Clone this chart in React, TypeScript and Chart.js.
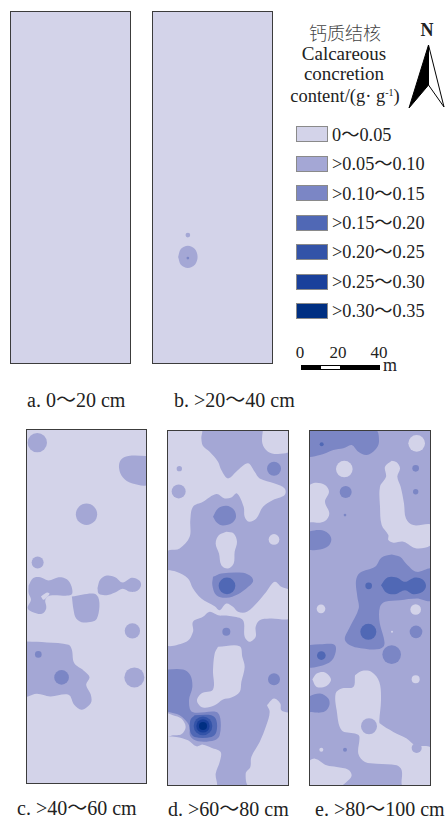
import React, { useEffect, useRef } from "react";
import { Chart, registerables } from "chart.js";

Chart.register(...registerables);

// Content classes, lowest to highest
const levelLabels = ["0～0.05", ">0.05～0.10", ">0.10～0.15", ">0.15～0.20", ">0.20～0.25", ">0.25～0.30", ">0.30～0.35"];
const levelColors = ["#d3d3e9", "#a4a7d5", "#7b86c5", "#5068b5", "#3353a8", "#1a409b", "#002f82"];

// Coordinates below are sample-grid units along each plot's two sides.
type Pt = [number, number];
type Shape = [number, Pt[]];
type Spot = [number, number, number, number]; // x, y, radius, level

const panelAShapes: Shape[] = [];
const panelASpots: Spot[] = [];

const panelBShapes: Shape[] = [
  [1, [[535, 112], [543, 88], [564, 78], [585, 88], [593, 112], [585, 135], [564, 145], [543, 135]]],
];
const panelBSpots: Spot[] = [
  [564, 46, 7, 1],
  [564, 115, 4, 2],
];

const panelCShapes: Shape[] = [
  [1, [[445, 108], [385, 108], [362, 120], [357, 145], [368, 172], [395, 190], [445, 192]]],
  [1, [[85, 497], [98, 475], [120, 472], [145, 482], [175, 472], [200, 478], [214, 500], [213, 525], [150, 527], [135, 540], [138, 565], [125, 582], [100, 578], [82, 565], [92, 540], [85, 520]]],
  [0, [[122, 530], [140, 518], [148, 522], [130, 540]]],
  [1, [[292, 505], [300, 480], [320, 467], [345, 472], [368, 488], [395, 474], [418, 482], [423, 497], [412, 513], [390, 516], [368, 507], [345, 518], [320, 526], [296, 522]]],
  [1, [[215, 530], [290, 526], [290, 597], [250, 608], [228, 596], [220, 570]]],
  [1, [[70, 665], [140, 668], [205, 675], [215, 690], [222, 730], [250, 752], [268, 772], [258, 795], [272, 825], [272, 850], [245, 870], [222, 855], [205, 825], [150, 830], [110, 822], [70, 828]]],
];
const panelCSpots: Spot[] = [
  [111, 68, 29, 1],
  [259, 283, 32, 1],
  [112, 428, 18, 1],
  [397, 633, 23, 1],
  [403, 773, 30, 1],
  [184, 773, 22, 2],
  [114, 704, 10, 2],
];

const panelDShapes: Shape[] = [
  [0, [[15, 30], [125, 30], [125, 55], [130, 78], [150, 95], [175, 125], [185, 150], [205, 175], [235, 150], [265, 130], [285, 155], [300, 175], [345, 190], [375, 205], [375, 225], [340, 240], [310, 260], [290, 295], [268, 305], [255, 290], [252, 260], [232, 220], [215, 232], [195, 235], [170, 222], [130, 245], [100, 260], [92, 300], [90, 350], [60, 385], [30, 390], [15, 395]]],
  [0, [[310, 25], [308, 70], [325, 95], [355, 102], [395, 90], [395, 25]]],
  [0, [[200, 335], [222, 340], [232, 365], [225, 395], [222, 430], [205, 445], [185, 435], [178, 400], [168, 370], [178, 345]]],
  [0, [[15, 448], [50, 455], [85, 475], [100, 505], [125, 535], [165, 558], [180, 570], [200, 550], [220, 560], [235, 575], [262, 575], [295, 545], [320, 515], [345, 485], [365, 500], [395, 515], [395, 592], [330, 595], [300, 600], [288, 620], [288, 650], [270, 665], [255, 650], [250, 600], [215, 588], [175, 585], [150, 575], [130, 590], [100, 605], [100, 635], [80, 665], [15, 670]]],
  [0, [[175, 680], [240, 678], [248, 710], [255, 740], [245, 785], [240, 815], [215, 832], [190, 838], [165, 855], [130, 862], [112, 842], [125, 820], [160, 808], [160, 750], [165, 700]]],
  [2, [[15, 748], [70, 748], [92, 765], [98, 800], [88, 840], [98, 875], [170, 875], [182, 895], [180, 945], [165, 960], [115, 963], [92, 948], [88, 915], [60, 885], [15, 865]]],
  [0, [[15, 875], [40, 885], [65, 895], [78, 920], [65, 942], [40, 945], [15, 950]]],
  [0, [[15, 948], [50, 950], [85, 960], [110, 978], [130, 973], [155, 982], [183, 995], [180, 1025], [168, 1060], [168, 1100], [15, 1100]]],
  [0, [[322, 855], [343, 835], [362, 850], [365, 870], [395, 885], [395, 1100], [270, 1100], [258, 1060], [272, 1040], [275, 1010], [300, 965], [320, 915], [330, 875]]],
  [2, [[160, 290], [175, 265], [200, 257], [222, 268], [229, 290], [218, 308], [190, 316], [172, 308]]],
  [2, [[160, 470], [185, 460], [250, 458], [275, 470], [280, 485], [260, 505], [235, 522], [200, 533], [170, 525], [158, 495]]],
  [3, [[105, 885], [155, 885], [170, 900], [170, 935], [155, 950], [105, 950], [92, 935], [92, 900]]],
];
const panelDSpots: Spot[] = [
  [57, 214, 21, 1],
  [59, 146, 8, 1],
  [343, 146, 21, 2],
  [343, 358, 16, 0],
  [202, 497, 25, 3],
  [200, 635, 12, 2],
  [343, 777, 18, 2],
  [130, 917, 28, 4],
  [130, 917, 20, 5],
  [130, 917, 12, 6],
];

const panelEShapes: Shape[] = [
  [2, [[20, 28], [225, 28], [237, 65], [225, 90], [200, 105], [175, 95], [155, 75], [130, 85], [100, 90], [60, 105], [20, 107]]],
  [0, [[275, 122], [255, 140], [258, 170], [240, 200], [240, 260], [245, 315], [265, 345], [265, 360], [280, 368], [310, 365], [350, 385], [395, 372], [395, 315], [340, 315], [318, 295], [312, 250], [302, 200], [292, 170], [300, 145], [290, 127]]],
  [0, [[20, 200], [45, 188], [75, 195], [87, 215], [75, 245], [88, 280], [75, 303], [50, 308], [20, 300]]],
  [2, [[20, 335], [60, 330], [85, 340], [94, 358], [85, 378], [60, 388], [20, 385]]],
  [2, [[275, 403], [245, 412], [225, 440], [180, 458], [168, 482], [172, 530], [176, 565], [150, 620], [135, 660], [170, 682], [250, 680], [238, 600], [240, 560], [255, 545], [300, 540], [350, 535], [395, 540], [395, 447], [350, 455], [320, 432], [300, 410]]],
  [3, [[243, 495], [262, 472], [290, 472], [315, 485], [345, 472], [368, 478], [378, 497], [368, 515], [340, 522], [315, 510], [285, 522], [260, 518]]],
  [2, [[20, 675], [60, 672], [105, 675], [100, 715], [70, 735], [20, 738]]],
  [0, [[37, 778], [50, 760], [75, 757], [93, 778], [78, 798], [50, 800]]],
  [2, [[20, 830], [60, 820], [85, 835], [88, 855], [75, 873], [50, 877], [20, 870]]],
  [0, [[165, 765], [185, 752], [215, 755], [238, 785], [243, 840], [238, 900], [240, 910], [280, 935], [320, 955], [345, 975], [395, 985], [395, 1100], [310, 1100], [305, 1050], [290, 1035], [230, 1030], [195, 1025], [175, 1000], [178, 948], [165, 940], [125, 930], [110, 870], [107, 820], [125, 805], [160, 800]]],
  [0, [[20, 1025], [45, 1015], [80, 1035], [110, 1040], [145, 1048], [155, 1065], [145, 1080], [115, 1100], [20, 1100]]],
];
const panelESpots: Spot[] = [
  [65, 73, 6, 3],
  [350, 70, 25, 0],
  [133, 147, 25, 0],
  [347, 145, 10, 2],
  [347, 215, 8, 2],
  [135, 285, 4, 2],
  [137, 216, 18, 2],
  [206, 497, 10, 3],
  [63, 566, 13, 0],
  [347, 568, 16, 0],
  [205, 635, 24, 3],
  [276, 635, 3, 0],
  [348, 635, 19, 2],
  [275, 703, 28, 2],
  [64, 706, 13, 3],
  [347, 777, 12, 0],
  [207, 918, 24, 1],
  [350, 983, 15, 1],
  [64, 988, 6, 0],
  [135, 988, 6, 2],
];

const frames = [
  { left: 11, top: 12, w: 119, h: 351, xr: [33, 390], yr: [-624, 428], base: 0, shapes: panelAShapes, spots: panelASpots },
  { left: 153, top: 12, w: 119, h: 351, xr: [460, 815], yr: [-624, 430], base: 0, shapes: panelBShapes, spots: panelBSpots },
  { left: 27, top: 430, w: 119, h: 353, xr: [80, 438], yr: [30, 1090], base: 0, shapes: panelCShapes, spots: panelCSpots },
  { left: 168, top: 431, w: 120, h: 354, xr: [25, 385], yr: [33, 1094], base: 1, shapes: panelDShapes, spots: panelDSpots },
  { left: 310, top: 431, w: 120, h: 354, xr: [30, 390], yr: [33, 1094], base: 1, shapes: panelEShapes, spots: panelESpots },
];

const captions = [
  { text: "a. 0～20 cm", x: 27, y: 400 },
  { text: "b. >20～40 cm", x: 174, y: 400 },
  { text: "c. >40～60 cm", x: 17, y: 808 },
  { text: "d. >60～80 cm", x: 168, y: 809 },
  { text: "e. >80～100 cm", x: 315, y: 809 },
];

const serif = '"Liberation Serif", "Noto Sans CJK SC", serif';

function Panel({ frame }: { frame: (typeof frames)[number] }) {
  const ref = useRef<HTMLCanvasElement>(null);
  useEffect(() => {
    const n = frame.shapes.length + frame.spots.length;
    const polygons = frame.shapes.map(([level, pts], i) => ({
      type: "scatter" as const,
      data: [...pts, pts[0]].map(([x, y]) => ({ x, y })),
      showLine: true,
      fill: "shape",
      backgroundColor: levelColors[level],
      borderWidth: 0,
      pointRadius: 0,
      tension: 0.35,
      capBezierPoints: false,
      order: n - i,
    }));
    const bubbles = frame.spots.map(([x, y, r, level], i) => ({
      type: "bubble" as const,
      data: [{ x, y, r: r / 3 }],
      backgroundColor: levelColors[level],
      borderWidth: 0,
      order: n - frame.shapes.length - i,
    }));
    const chart = new Chart(ref.current!, {
      type: "scatter",
      data: { datasets: [...polygons, ...bubbles] as any },
      plugins: [
        {
          id: "baseFill",
          beforeDraw(c: Chart) {
            const { ctx, chartArea: a } = c;
            ctx.save();
            ctx.fillStyle = levelColors[frame.base];
            ctx.fillRect(a.left, a.top, a.right - a.left, a.bottom - a.top);
            ctx.restore();
          },
        },
      ],
      options: {
        animation: false,
        responsive: false,
        events: [],
        layout: { padding: 0, autoPadding: false },
        plugins: { legend: { display: false }, tooltip: { enabled: false }, title: { display: false } },
        scales: {
          x: { type: "linear", display: false, min: frame.xr[0], max: frame.xr[1] },
          y: { type: "linear", display: false, reverse: true, min: frame.yr[0], max: frame.yr[1] },
        },
      },
    });
    return () => chart.destroy();
  }, [frame]);
  return (
    <div style={{ position: "absolute", left: frame.left - 1, top: frame.top - 1, width: frame.w, height: frame.h, border: "1px solid #3c3c3c" }}>
      <canvas ref={ref} width={frame.w} height={frame.h} style={{ display: "block" }} />
    </div>
  );
}

function Label({ x, y, size, center, children, style }: any) {
  return (
    <div
      style={{
        position: "absolute",
        left: x,
        top: y,
        transform: center ? "translate(-50%,-50%)" : "translateY(-50%)",
        fontFamily: serif,
        fontSize: size,
        lineHeight: 1,
        color: "#222",
        whiteSpace: "nowrap",
        ...style,
      }}
    >
      {children}
    </div>
  );
}

export default function App() {
  return (
    <div style={{ position: "absolute", left: 0, top: 0, width: 445, height: 818, overflow: "hidden", background: "#fff" }}>
      {frames.map((f, i) => (
        <Panel key={i} frame={f} />
      ))}
      {captions.map((c) => (
        <Label key={c.text} x={c.x} y={c.y} size={20}>
          {c.text}
        </Label>
      ))}

      <Label x={345} y={32} size={18} center style={{ fontFamily: '"Noto Sans CJK SC", sans-serif', fontWeight: 300, color: "#444" }}>
        钙质结核
      </Label>
      <Label x={344} y={53} size={19} center>Calcareous</Label>
      <Label x={344} y={73} size={19} center>concretion</Label>
      <Label x={345} y={96} size={18.5} center>
        content/(g· g<sup style={{ fontSize: 10, verticalAlign: 6, lineHeight: 0 }}>-1</sup>)
      </Label>

      <Label x={427} y={30} size={18} center style={{ fontWeight: 700 }}>N</Label>
      <svg style={{ position: "absolute", left: 400, top: 40, overflow: "visible" }} width={45} height={72}>
        <polygon points="28.5,5 9,68 28.5,45" fill="#000" stroke="#000" strokeWidth={1} />
        <polygon points="28.5,5 44,67 28.5,45" fill="#fff" stroke="#000" strokeWidth={1} />
      </svg>

      {levelLabels.map((label, i) => (
        <React.Fragment key={label}>
          <div
            style={{
              position: "absolute",
              left: 296,
              top: 126 + i * 29.5,
              width: 30,
              height: 14,
              background: levelColors[i],
              border: "1px solid #8a8a8a",
            }}
          />
          <Label x={332} y={135 + i * 29.3} size={18.3}>{label}</Label>
        </React.Fragment>
      ))}

      <Label x={300} y={352} size={17} center>0</Label>
      <Label x={338} y={352} size={17} center>20</Label>
      <Label x={379} y={352} size={17} center>40</Label>
      <div style={{ position: "absolute", left: 301, top: 365, width: 79, height: 5, background: "#000" }} />
      <div style={{ position: "absolute", left: 321, top: 366, width: 19, height: 3, background: "#fff" }} />
      <Label x={390} y={365} size={18} center>m</Label>
    </div>
  );
}
